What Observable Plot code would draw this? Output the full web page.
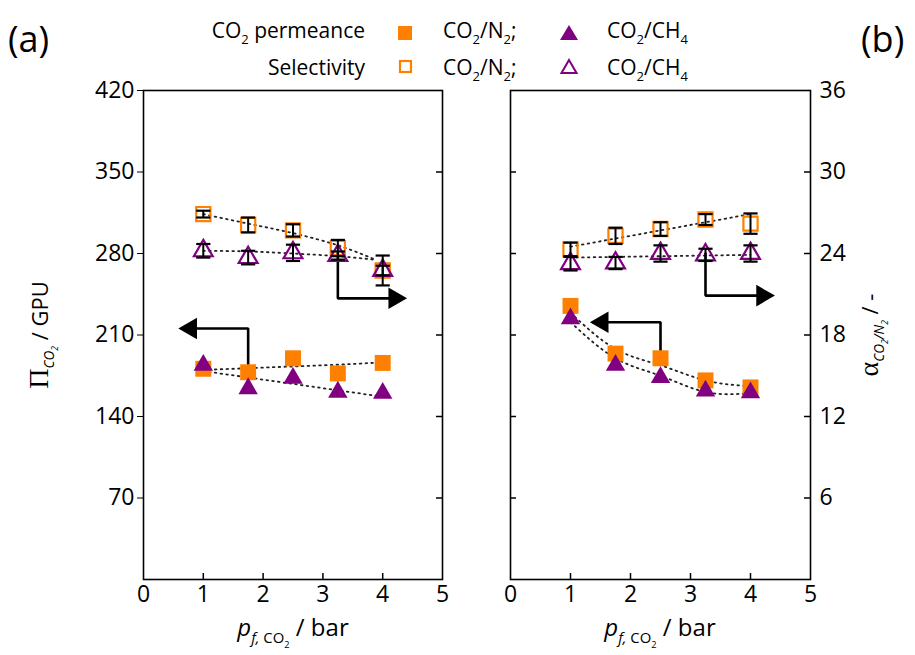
<!DOCTYPE html>
<html>
<head>
<meta charset="utf-8">
<script src="https://cdn.jsdelivr.net/npm/d3@7"></script>
<script src="https://cdn.jsdelivr.net/npm/@observablehq/plot@0.6"></script>
<style>
  html, body { margin: 0; padding: 0; background: #fff; }
  #wrap { position: relative; width: 915px; height: 655px; font-family: "Open Sans", sans-serif; color: #000; overflow: hidden; }
  .abs { position: absolute; white-space: nowrap; }
  .panel { position: absolute; top: 0; }
  .lbl { font-size: 36px; }
  .leg { font-size: 21px; line-height: 1; }
  .leg sub, .axl sub { font-size: 62%; vertical-align: -0.45em; }
  .axl { font-size: 22px; line-height: 1; }
  .serif { font-family: "Liberation Serif", "DejaVu Serif", serif; font-size: 28px; }
  .it { font-style: italic; }
</style>
</head>
<body>
<div id="wrap">
  <div class="abs lbl" style="left:8px; top:14px;">(a)</div>
  <div class="abs lbl" style="left:861px; top:14px;">(b)</div>

  <div class="abs leg" style="right:550px; top:20px;">CO<sub>2</sub> permeance</div>
  <div class="abs leg" style="right:550px; top:57px;">Selectivity</div>
  <svg class="abs" style="left:397px; top:25px;" width="16" height="16"><rect x="1" y="1" width="14" height="14" fill="#ff8000"/></svg>
  <svg class="abs" style="left:398px; top:59px;" width="15" height="15"><rect x="2" y="2" width="11" height="11" fill="none" stroke="#ff8000" stroke-width="2.2"/></svg>
  <div class="abs leg" style="left:443px; top:20px;">CO<sub>2</sub>/N<sub>2</sub>;</div>
  <div class="abs leg" style="left:443px; top:57px;">CO<sub>2</sub>/N<sub>2</sub>;</div>
  <svg class="abs" style="left:559px; top:24px;" width="20" height="17"><path d="M10,1 L19,16 L1,16 Z" fill="#800080"/></svg>
  <svg class="abs" style="left:560px; top:58px;" width="18" height="17"><path d="M9,2 L16.5,15 L1.5,15 Z" fill="none" stroke="#800080" stroke-width="2"/></svg>
  <div class="abs leg" style="left:607px; top:20px;">CO<sub>2</sub>/CH<sub>4</sub></div>
  <div class="abs leg" style="left:607px; top:57px;">CO<sub>2</sub>/CH<sub>4</sub></div>

  <div class="abs axl" style="left:42px; top:335px; transform: translate(-50%,-50%) rotate(-90deg);"><span class="serif">Π</span><sub class="it">CO<sub>2</sub></sub> / GPU</div>
  <div class="abs axl" style="left:872px; top:335px; transform: translate(-50%,-50%) rotate(-90deg);"><span class="serif">α</span><sub class="it">CO<sub>2</sub>/N<sub>2</sub></sub> / -</div>
  <div class="abs axl" style="left:293px; top:632px; transform: translate(-50%,-50%); font-size:24px;"><span class="it">p</span><sub><span class="it">f,</span> CO<sub>2</sub></sub> / bar</div>
  <div class="abs axl" style="left:660px; top:632px; transform: translate(-50%,-50%); font-size:24px;"><span class="it">p</span><sub><span class="it">f,</span> CO<sub>2</sub></sub> / bar</div>

  <div id="pa" class="panel" style="left:0px;"></div>
  <div id="pb" class="panel" style="left:460px;"></div>
</div>
<script>
// ---------------- data ----------------
const xVals = [1, 1.75, 2.5, 3.25, 4];
const xTicks = [0, 1, 2, 3, 4, 5];
const gpuTicks = [70, 140, 210, 280, 350, 420];
const alphaTicks = [6, 12, 18, 24, 30, 36];

// Panel (a): permeance in GPU, selectivity dimensionless
const aPermN2 = [181, 178, 190, 177, 186];
const aPermCH4 = [184, 164, 173, 161, 160];
const aSelN2 = [26.9, 26.1, 25.7, 24.4, 22.75];
const aSelN2Err = [0.25, 0.55, 0.45, 0.6, 1.1];
const aSelCH4 = [24.2, 23.7, 24.05, 23.85, 22.75];
const aSelCH4Err = [0.5, 0.5, 0.6, 0.3, 0.35];

// Panel (b)
const bPermN2 = [235, 194, 190, 171, 165];
const bPermCH4 = [224, 184, 173.5, 162, 160.5];
const bSelN2 = [24.3, 25.3, 25.8, 26.5, 26.2];
const bSelN2Err = [0.5, 0.6, 0.5, 0.4, 0.75];
const bSelCH4 = [23.25, 23.3, 24.0, 23.9, 24.0];
const bSelCH4Err = [0.5, 0.45, 0.6, 0.45, 0.6];

// Dotted trend curves
const trendX = [1, 1.75, 2.5, 3.25, 4];
const trendXshort = [1, 1.75, 2.5, 3.25, 3.85];
const aTrendPermN2 = [180, 181.5, 183, 184.5, 186.5];
const aTrendPermCH4 = [179, 173.5, 168, 162.5, 157];
const aTrendSelN2 = [26.9, 26.2, 25.5, 24.6, 23.6];
const aTrendSelCH4 = [24.2, 24.15, 24.0, 23.8, 23.55];
const bTrendPermN2 = [229, 198, 184, 171, 166];
const bTrendPermCH4 = [221, 190, 175, 161, 160];
const bTrendSelN2 = [24.5, 25.1, 25.7, 26.3, 26.9];
const bTrendSelCH4 = [23.7, 23.75, 23.8, 23.85, 23.9];

// Axis-pointing arrows: vertices, last one is the tip
const aArrowSel = {x: [3.25, 3.25, 4.35], alpha: [24.0, 20.7, 20.7], dir: 90};
const aArrowPerm = {x: [1.75, 1.75, 0.64], gpu: [185, 215.6, 215.6], dir: -90};
const bArrowSel = {x: [3.25, 3.25, 4.35], alpha: [24.0, 20.9, 20.9], dir: 90};
const bArrowPerm = {x: [2.5, 2.5, 1.38], gpu: [193, 221, 221], dir: -90};

// ---------------- helpers ----------------
const K = 420 / 36; // GPU per selectivity unit (shared frame)
const ORANGE = "#ff8000", PURPLE = "#800080";
const cap = {draw(ctx, size) { const w = Math.sqrt(size); ctx.moveTo(-w / 2, 0); ctx.lineTo(w / 2, 0); }};
const rows = (ys, errs) => xVals.map((x, i) => ({x, y: ys[i], e: errs ? errs[i] : 0}));
const trend = (xs, ys) => xs.map((x, i) => ({x, y: ys[i]}));
const dotted = {stroke: "#222", strokeWidth: 1.8, strokeDasharray: "1.6,4.2", strokeLinecap: "round", curve: "natural"};

function panelMarks(P, conv) {
  const m = [];
  m.push(Plot.frame({stroke: "#000", strokeWidth: 1.6}));
  m.push(Plot.line(P.tPermN2, {x: "x", y: d => conv.perm(d.y), ...dotted}));
  m.push(Plot.line(P.tPermCH4, {x: "x", y: d => conv.perm(d.y), ...dotted}));
  m.push(Plot.line(P.tSelN2, {x: "x", y: d => conv.sel(d.y), ...dotted}));
  m.push(Plot.line(P.tSelCH4, {x: "x", y: d => conv.sel(d.y), ...dotted}));
  for (const ar of P.arrows) {
    const pts = ar.x.map((x, i) => ({x, y: ar.gpu ? conv.perm(ar.gpu[i]) : conv.sel(ar.alpha[i])}));
    m.push(Plot.line(pts, {x: "x", y: "y", stroke: "#000", strokeWidth: 2.6, strokeLinejoin: "miter"}));
    const tip = pts[pts.length - 1];
    m.push(Plot.dot([tip], {x: "x", y: "y", symbol: "triangle", r: 8, fill: "#000", rotate: ar.dir, dx: ar.dir > 0 ? -9 : 9}));
  }
  m.push(Plot.dot(P.selN2, {x: "x", y: d => conv.sel(d.y), symbol: "square", r: 8, stroke: ORANGE, strokeWidth: 2.2, fill: "none"}));
  m.push(Plot.dot(P.selCH4, {x: "x", y: d => conv.sel(d.y), symbol: "triangle", r: 7, stroke: PURPLE, strokeWidth: 2.2, fill: "none"}));
  for (const s of [P.selN2, P.selCH4]) {
    m.push(Plot.ruleX(s, {x: "x", y1: d => conv.sel(d.y - d.e), y2: d => conv.sel(d.y + d.e), stroke: "#000", strokeWidth: 2}));
    m.push(Plot.dot(s, {x: "x", y: d => conv.sel(d.y + d.e), symbol: cap, r: 8, stroke: "#000", strokeWidth: 2.2}));
    m.push(Plot.dot(s, {x: "x", y: d => conv.sel(d.y - d.e), symbol: cap, r: 8, stroke: "#000", strokeWidth: 2.2}));
  }
  m.push(Plot.dot(P.permN2, {x: "x", y: d => conv.perm(d.y), symbol: "square", r: 9, fill: ORANGE}));
  m.push(Plot.dot(P.permCH4, {x: "x", y: d => conv.perm(d.y), symbol: "triangle", r: 7.2, fill: PURPLE}));
  m.push(Plot.ruleX([1, 2, 3, 4], {x: d => d, y1: 0, y2: 0, insetTop: -6, stroke: "#000", strokeWidth: 1.5}));
  m.push(Plot.axisX(xTicks, {tickSize: 0, tickPadding: 6, fontSize: 23, label: null}));
  return m;
}

const common = {
  height: 655, marginTop: 90, marginBottom: 76,
  x: {domain: [0, 5], label: null},
  style: {fontFamily: "Open Sans, sans-serif", fontSize: "23px", color: "#000", background: "transparent", overflow: "visible"}
};

const PA = {
  permN2: rows(aPermN2), permCH4: rows(aPermCH4),
  selN2: rows(aSelN2, aSelN2Err), selCH4: rows(aSelCH4, aSelCH4Err),
  tPermN2: trend(trendX, aTrendPermN2), tPermCH4: trend(trendX, aTrendPermCH4),
  tSelN2: trend(trendXshort, aTrendSelN2), tSelCH4: trend(trendXshort, aTrendSelCH4),
  arrows: [aArrowSel, aArrowPerm]
};
const convA = {perm: v => v, sel: v => v * K};
const chartA = Plot.plot({
  ...common, width: 460, marginLeft: 143, marginRight: 18,
  y: {domain: [0, 420], label: null},
  marks: [
    ...panelMarks(PA, convA),
    Plot.axisY(gpuTicks, {anchor: "left", tickSize: 6, tickPadding: 3, fontSize: 23, label: null}),
    Plot.ruleY(gpuTicks.slice(0, -1), {y: d => d, x1: 5, x2: 5, insetLeft: -6, stroke: "#000", strokeWidth: 1.5})
  ]
});
document.getElementById("pa").appendChild(chartA);

const PB = {
  permN2: rows(bPermN2), permCH4: rows(bPermCH4),
  selN2: rows(bSelN2, bSelN2Err), selCH4: rows(bSelCH4, bSelCH4Err),
  tPermN2: trend(trendX, bTrendPermN2), tPermCH4: trend(trendX, bTrendPermCH4),
  tSelN2: trend(trendX, bTrendSelN2), tSelCH4: trend(trendX, bTrendSelCH4),
  arrows: [bArrowSel, bArrowPerm]
};
const convB = {perm: v => v / K, sel: v => v};
const chartB = Plot.plot({
  ...common, width: 455, marginLeft: 50, marginRight: 105,
  y: {domain: [0, 36], label: null},
  marks: [
    ...panelMarks(PB, convB),
    Plot.axisY(alphaTicks, {anchor: "right", tickSize: 0, tickPadding: 9, fontSize: 23, label: null}),
    Plot.ruleY(alphaTicks.slice(0, -1), {y: d => d, x1: 5, x2: 5, insetLeft: -6, stroke: "#000", strokeWidth: 1.5}),
    Plot.ruleY(alphaTicks.slice(0, -1), {y: d => d, x1: 0, x2: 0, insetRight: -6, stroke: "#000", strokeWidth: 1.5})
  ]
});
document.getElementById("pb").appendChild(chartB);
</script>
</body>
</html>
